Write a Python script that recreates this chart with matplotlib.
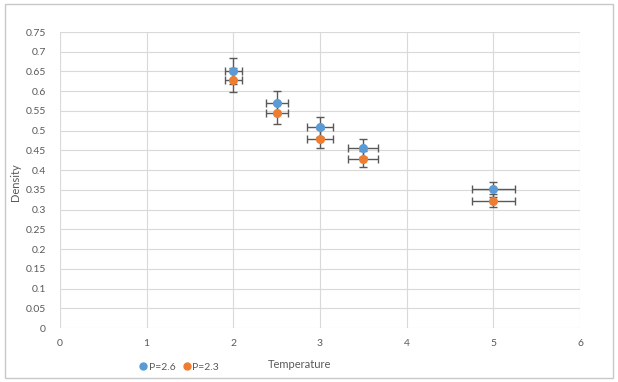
import matplotlib
matplotlib.use("Agg")
import matplotlib.pyplot as plt
from matplotlib.patches import Rectangle
from matplotlib.lines import Line2D

temperature = [2.0, 2.5, 3.0, 3.5, 5.0]
temp_err = [0.10, 0.125, 0.15, 0.175, 0.25]

density_p26 = [0.651, 0.571, 0.509, 0.456, 0.351]
density_p26_err = [0.033, 0.029, 0.025, 0.023, 0.018]
density_p23 = [0.628, 0.545, 0.479, 0.428, 0.323]
density_p23_err = [0.031, 0.027, 0.024, 0.021, 0.016]

series_labels = ["P=2.6", "P=2.3"]
series_colors = ["#5B9BD5", "#ED7D31"]

plt.rcParams["font.family"] = ["Lato", "DejaVu Sans"]

fig = plt.figure(figsize=(6.18, 3.82), dpi=100)
ax = fig.add_axes([60 / 618, 54 / 382, 520 / 618, 296 / 382])

text_col = "#595959"
grid_col = "#d9d9d9"

for y, yerr, col in [(density_p26, density_p26_err, series_colors[0]),
                     (density_p23, density_p23_err, series_colors[1])]:
    ax.errorbar(temperature, y, xerr=temp_err, yerr=yerr, fmt="none",
                ecolor="#595959", elinewidth=1.0, capsize=3, capthick=1.0, zorder=3)
    ax.plot(temperature, y, "o", color=col, markersize=5.5, zorder=4)

ax.set_xlim(0, 6)
ax.set_ylim(0, 0.75)
ax.set_xticks(range(0, 7))
ax.set_yticks([i * 0.05 for i in range(16)])
ax.set_yticklabels(["0" if i == 0 else f"{i * 0.05:.2f}".rstrip("0") for i in range(16)])
ax.grid(True, color=grid_col, linewidth=0.8)
ax.set_axisbelow(True)
for s in ax.spines.values():
    s.set_visible(False)
ax.tick_params(length=0, colors=text_col, labelsize=7.5, pad=8)
ax.tick_params(axis="y", pad=10)

# axis titles placed like the Excel chart
fig.text(300 / 618, 1 - 364 / 382, "Temperature", color=text_col, fontsize=8,
         ha="center", va="center")
fig.text(16 / 618, 1 - 182 / 382, "Density", color=text_col, fontsize=8,
         ha="center", va="center", rotation=90)

handles = [Line2D([], [], marker="o", linestyle="none", color=c, markersize=5)
           for c in series_colors]
fig.legend(handles, series_labels, loc="center left", bbox_to_anchor=(134 / 618, 1 - 367 / 382),
           ncol=2, frameon=False, fontsize=7.5, handletextpad=0.0, columnspacing=0.6,
           handlelength=1.0, labelcolor=text_col, borderaxespad=0)

# chart border
fig.patches.append(Rectangle((5 / 618, 4 / 382), 608 / 618, 374 / 382, transform=fig.transFigure,
                             fill=False, edgecolor="#c8c8c8", linewidth=1.0))

fig.savefig("out.png", dpi=100)
